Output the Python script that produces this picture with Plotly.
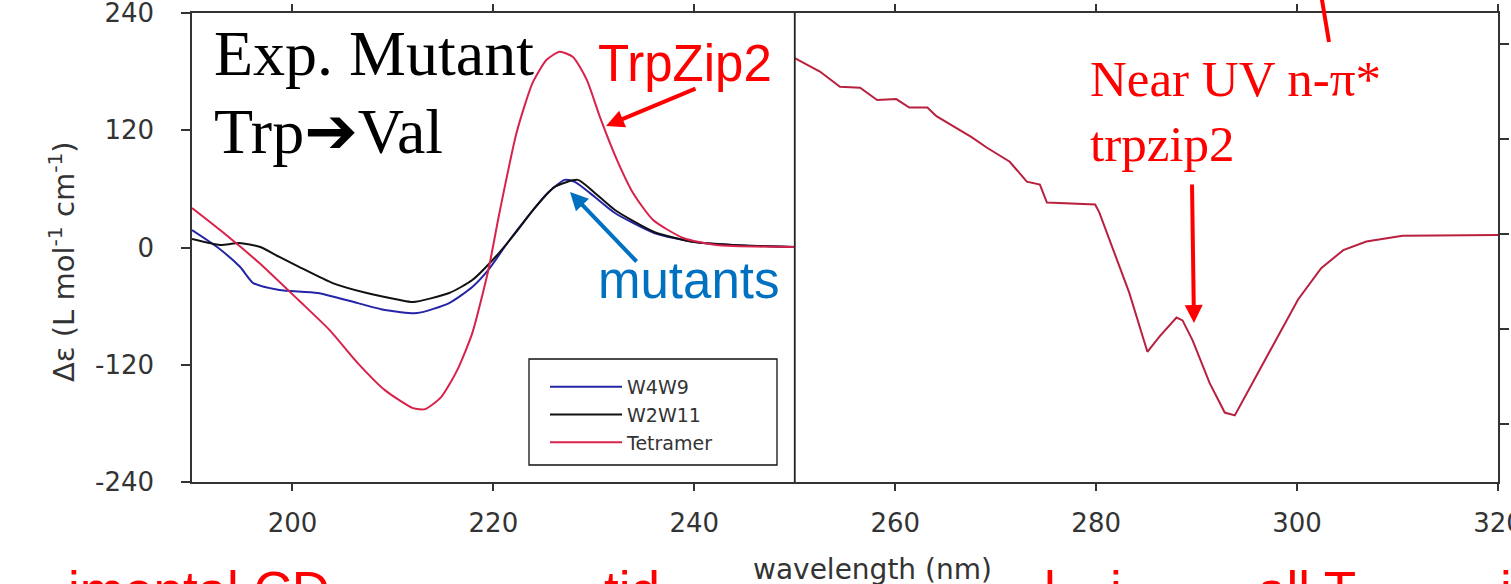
import plotly.graph_objects as go

# ---------------- data ----------------
wl_tetramer = [190.0, 192.8, 196.7, 200.6, 203.7, 206.5, 209.2, 212.0, 213.2, 214.8, 216.4, 217.9, 219.5,
               220.6, 222.3, 223.9, 225.3, 226.6, 227.9, 229.3, 230.6, 232.3, 233.9, 235.9, 238.9, 242.2, 250.0]
de_tetramer = [40.5, 17.9, -15.9, -53.8, -84.5, -118.3, -146.0, -164.4, -165.4, -153.2, -125.5, -87.6, -23.0,
               35.3, 117.2, 168.5, 192.1, 200.3, 195.2, 171.6, 133.7, 89.7, 55.8, 28.2, 9.7, 2.6, 0.5]

wl_w4w9 = [190.0, 192.5, 194.8, 196.1, 198.7, 202.5, 206.5, 209.2, 212.4, 215.6, 217.9, 219.5, 221.4,
           223.4, 225.4, 227.1, 228.1, 230.1, 232.1, 236.0, 240.0, 243.8, 250.0]
de_w4w9 = [17.9, 0.5, -20.0, -36.4, -43.5, -46.6, -56.9, -64.0, -67.1, -56.9, -40.5, -23.0, 4.6,
           31.3, 55.8, 69.2, 67.1, 51.7, 35.3, 14.9, 5.6, 2.6, 0.5]

wl_w2w11 = [190.0, 192.8, 194.7, 196.8, 198.7, 200.7, 204.0, 207.4, 210.7, 212.0, 215.6, 217.9, 220.2,
            222.2, 224.2, 226.1, 228.4, 230.1, 232.1, 236.0, 240.0, 243.8, 250.0]
de_w2w11 = [8.7, 2.6, 4.6, 0.5, -9.7, -20.0, -36.4, -46.6, -53.8, -55.8, -46.6, -33.3, -9.7,
            14.9, 41.5, 62.0, 69.2, 55.8, 38.4, 15.9, 5.6, 2.6, 0.5]

# near-UV panel (own, unlabeled right-hand scale)
wl_nearuv = [250.0, 252.5, 254.5, 256.5, 258.2, 260.1, 261.4, 263.2, 264.1, 265.9, 267.6, 269.1, 270.4,
             271.4, 273.1, 274.4, 275.1, 277.4, 279.9, 280.3, 281.6, 283.3, 285.1, 286.3, 288.0, 288.6,
             289.6, 291.3, 292.8, 293.8, 295.6, 297.9, 300.1, 302.4, 304.6, 306.9, 310.5, 320.0]
de_nearuv = [1.85, 1.71, 1.55, 1.54, 1.41, 1.42, 1.33, 1.33, 1.24, 1.13, 1.02, 0.91, 0.83,
             0.76, 0.55, 0.52, 0.33, 0.32, 0.31, 0.23, -0.14, -0.62, -1.24, -1.08, -0.88, -0.91,
             -1.12, -1.57, -1.88, -1.91, -1.56, -1.12, -0.69, -0.36, -0.17, -0.08, -0.02, -0.01]

x_ticks = [200, 220, 240, 260, 280, 300, 320]
y_ticks = [-240, -120, 0, 120, 240]
y_ticktext = ["-240", "-120", "0", "120", "240"]
y2_ticks = [-2, -1, 0, 1, 2]

# ---------------- layout helpers ----------------
W, H = 1511, 584
PL, PR, PT, PB = 192, 1498, 13, 482


def xp(px):
    return (px - PL) / (PR - PL)


def yp(py):
    return (PB - py) / (PB - PT)


AX = "#333333"
CHART_FONT = "DejaVu Sans"

fig = go.Figure()
fig.add_trace(go.Scatter(x=wl_w4w9, y=de_w4w9, name="W4W9", mode="lines",
                         line=dict(color="#2424a8", width=2, shape="spline", smoothing=0.6)))
fig.add_trace(go.Scatter(x=wl_w2w11, y=de_w2w11, name="W2W11", mode="lines",
                         line=dict(color="#111111", width=2, shape="spline", smoothing=0.6)))
fig.add_trace(go.Scatter(x=wl_tetramer, y=de_tetramer, name="Tetramer", mode="lines",
                         line=dict(color="#d8224a", width=2, shape="spline", smoothing=0.6)))
fig.add_trace(go.Scatter(x=wl_nearuv, y=de_nearuv, name="trpzip2 near UV", mode="lines", yaxis="y2",
                         showlegend=False, line=dict(color="#b8203e", width=2)))

fig.update_layout(
    width=W, height=H,
    margin=dict(l=PL, r=W - PR, t=PT, b=H - PB, autoexpand=False),
    paper_bgcolor="white", plot_bgcolor="white",
    showlegend=True,
    legend=dict(x=xp(545), y=yp(368), xanchor="left", yanchor="top",
                bgcolor="rgba(0,0,0,0)", borderwidth=0,
                font=dict(family=CHART_FONT, size=19, color="#333333"),
                itemwidth=72, tracegroupgap=0),
    xaxis=dict(range=[190, 320], tickvals=x_ticks, ticks="outside", ticklen=7, tickwidth=1.5,
               tickcolor=AX, showline=True, linecolor=AX, linewidth=1.5, mirror="ticks",
               showgrid=False, zeroline=False, ticklabelstandoff=10, ticklabeloverflow="allow",
               automargin=False,
               tickfont=dict(family=CHART_FONT, size=26, color="#333333")),
    yaxis=dict(range=[-240, 240], tickvals=y_ticks, ticktext=y_ticktext, ticks="outside", ticklen=9,
               tickwidth=1.5, tickcolor=AX, showline=True, linecolor=AX, linewidth=1.5,
               showgrid=False, zeroline=False, ticklabelstandoff=22, ticklabeloverflow="allow",
               automargin=False,
               tickfont=dict(family=CHART_FONT, size=26, color="#333333")),
    yaxis2=dict(range=[-2.611, 2.326], tickvals=y2_ticks, overlaying="y", side="right",
                ticks="outside", ticklen=9, tickwidth=1.5, tickcolor=AX, showline=True,
                linecolor=AX, linewidth=1.5, showgrid=False, zeroline=False,
                showticklabels=False, automargin=False),
)

# divider between far-UV and near-UV panels
fig.add_shape(type="line", xref="x", yref="paper", x0=250, x1=250, y0=0, y1=1,
              line=dict(color="#222222", width=1.8))
# legend frame
fig.add_shape(type="rect", xref="paper", yref="paper", x0=xp(529), x1=xp(777), y0=yp(465), y1=yp(359),
              line=dict(color="#111111", width=1.3), fillcolor="white", layer="below")
# line leaving the top edge (slide annotation)
fig.add_shape(type="line", xref="paper", yref="paper", x0=xp(1321), y0=yp(-6), x1=xp(1329), y1=yp(42),
              line=dict(color="#ff0000", width=4))

ann = []


def text(s, x, y, size, color, family, xanchor="left", yanchor="middle", angle=0):
    ann.append(dict(text=s, x=xp(x), y=yp(y), xref="paper", yref="paper", xanchor=xanchor,
                    yanchor=yanchor, showarrow=False, textangle=angle,
                    font=dict(size=size, color=color, family=family)))


def arrow(tipx, tipy, tailx, taily, color):
    ann.append(dict(text="", x=xp(tipx), y=yp(tipy), xref="paper", yref="paper",
                    ax=tailx - tipx, ay=taily - tipy, axref="pixel", ayref="pixel",
                    showarrow=True, arrowhead=2, arrowsize=0.9, arrowwidth=4, arrowcolor=color))


SERIF = "Liberation Serif"
SANS = "Liberation Sans"
text("Exp. Mutant", 212, 54, 64, "black", SERIF)
text("Trp<span style='font-family:DejaVu Sans'><b>➔</b></span>Val", 212, 131, 64, "black", SERIF)
text("TrpZip2", 596, 63, 51, "#ff0000", SANS)
text("mutants", 596, 280, 51, "#0070c0", SANS)
text("Near UV n-π*", 1088, 79, 51, "#ff0000", SERIF)
text("trpzip2", 1088, 144, 51, "#ff0000", SERIF)
arrow(606, 126, 697, 88, "#ff0000")
arrow(570, 192, 638, 263, "#0070c0")
arrow(1194, 323, 1192, 183, "#ff0000")

# axis titles (from the embedded chart)
text("Δε (L mol<sup>-1</sup> cm<sup>-1</sup>)", 62, 262, 29, "#333333", CHART_FONT,
     xanchor="center", yanchor="middle", angle=-90)
text("wavelength (nm)", 872, 569, 28, "#333333", CHART_FONT, xanchor="center")

# slide text cut off by the bottom edge
text("imental CD", 66, 590, 53, "#ff0000", SANS)
text("tid", 602, 590, 53, "#ff0000", SANS)
text("l", 1042, 590, 53, "#ff0000", SANS)
text("i", 1108, 590, 53, "#ff0000", SANS)
text("all T", 1255, 590, 53, "#ff0000", SANS)
text("i", 1498, 590, 53, "#ff0000", SANS)

fig.update_layout(annotations=ann)
fig.write_html("out.html")
